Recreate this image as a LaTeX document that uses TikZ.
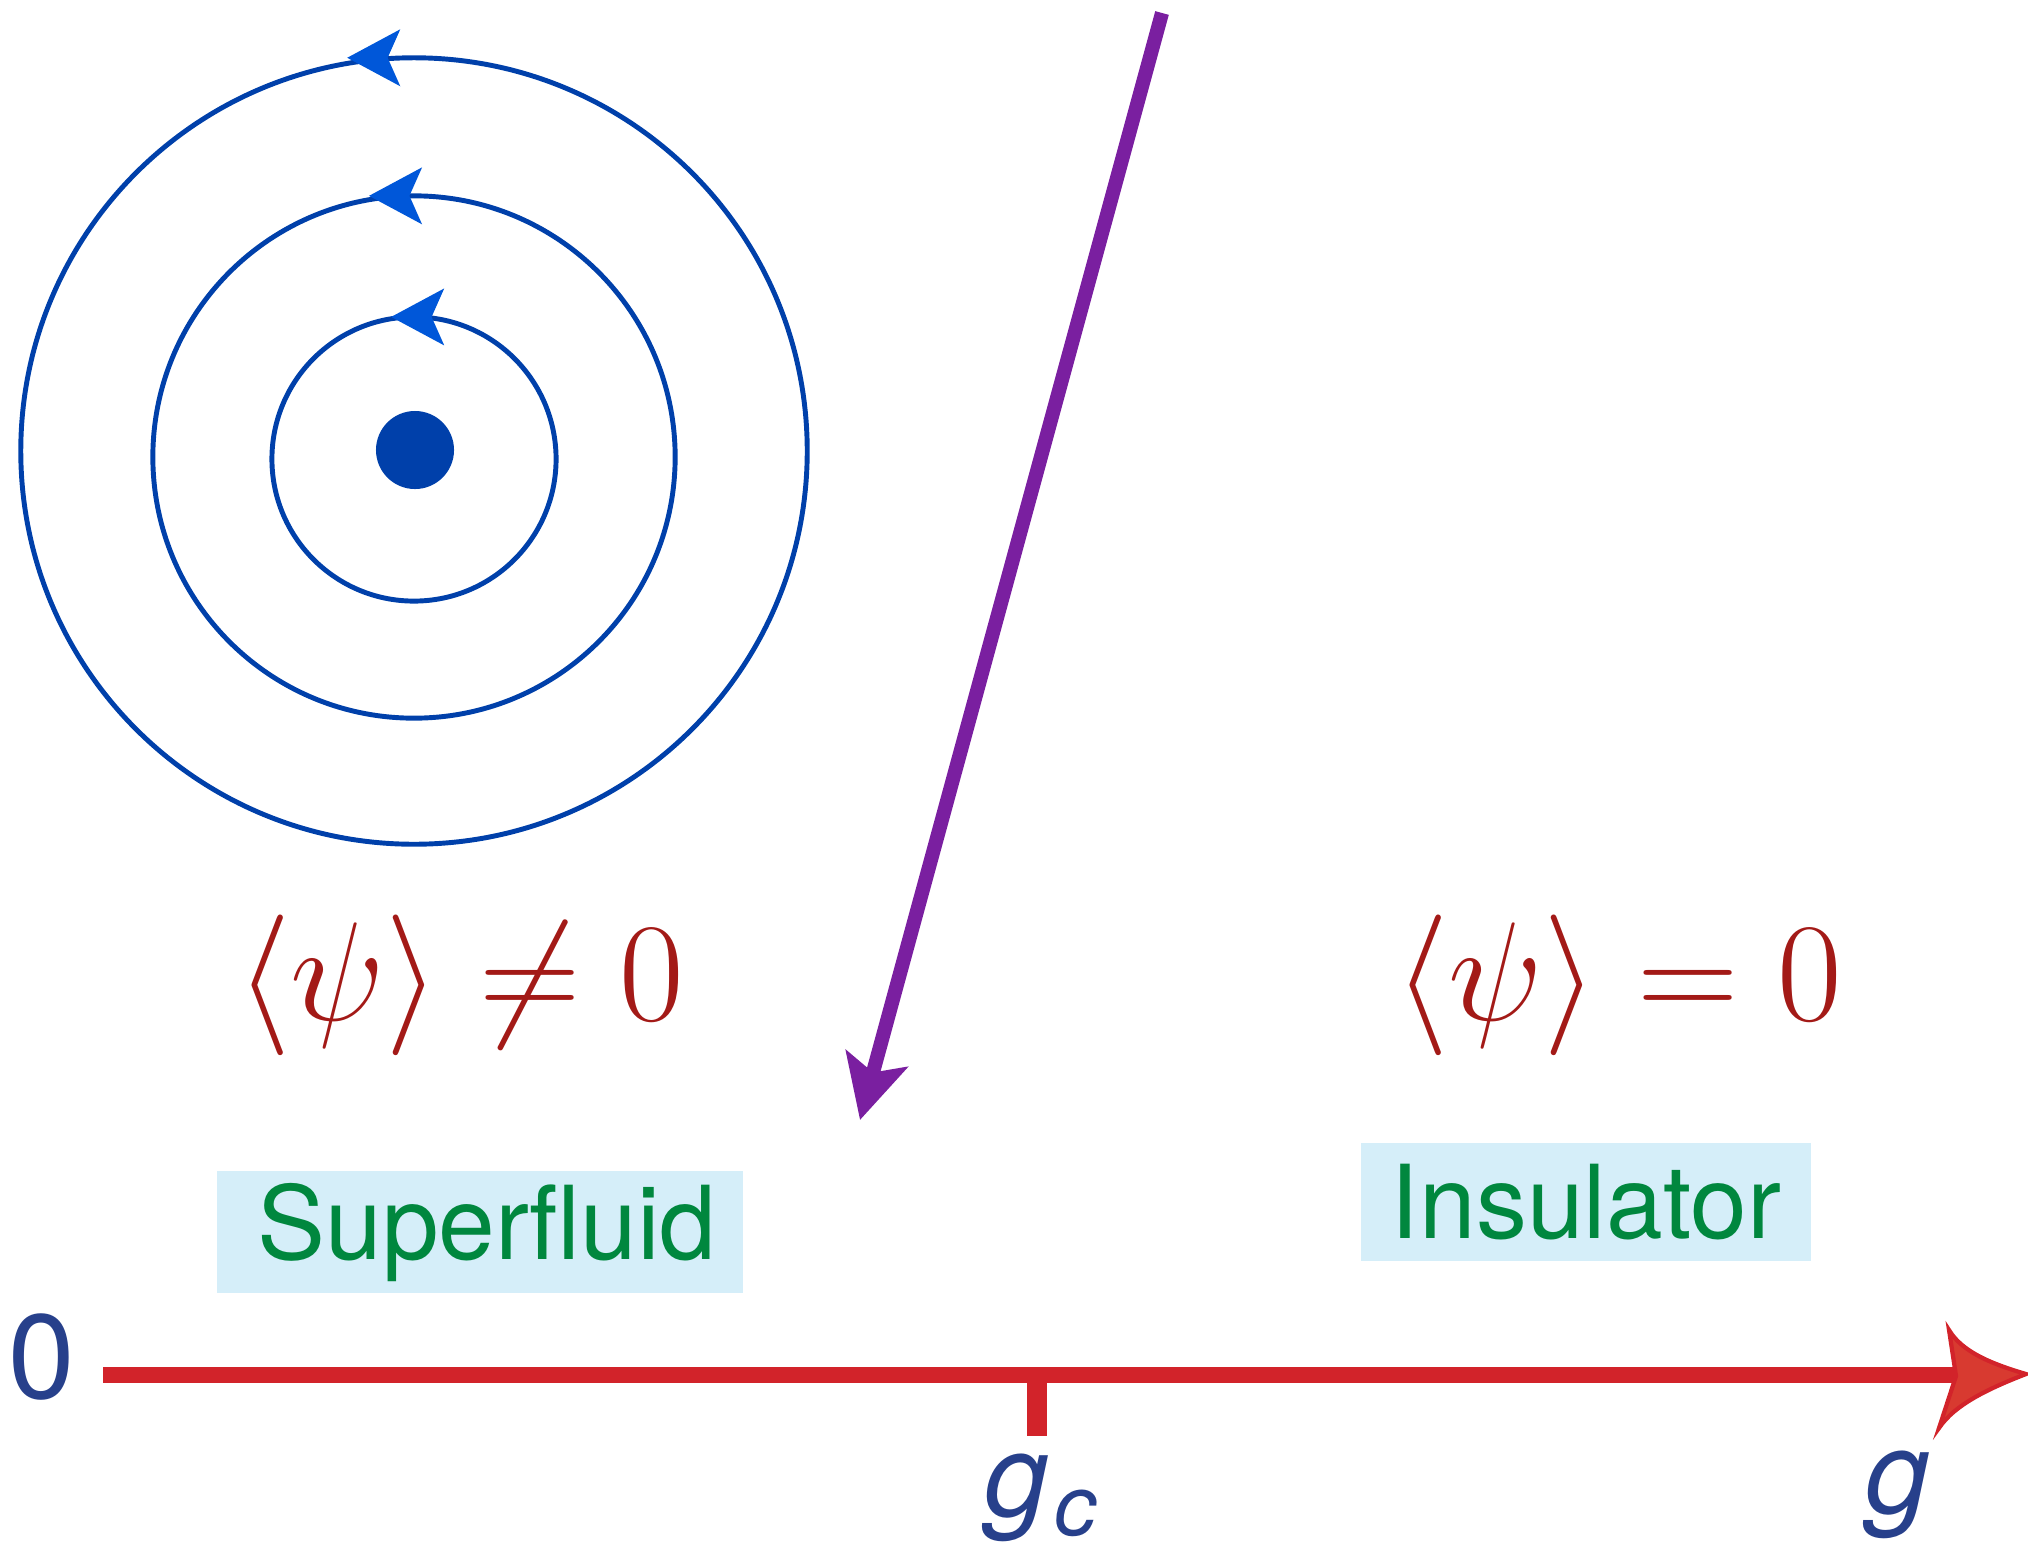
\documentclass[tikz,border=0pt]{standalone}
\usepackage{fix-cm}
\usepackage{fontspec}
\newfontfamily\heros{TeX Gyre Heros}
\usetikzlibrary{arrows.meta, decorations.markings}

\definecolor{orbitblue}{HTML}{0040AA}
\definecolor{tipblue}{HTML}{0057D9}
\definecolor{flowpurple}{HTML}{7A1FA0}
\definecolor{axisred}{HTML}{D2232A}
\definecolor{headred}{HTML}{D83A30}
\definecolor{labelblue}{HTML}{27408B}
\definecolor{phasegreen}{HTML}{00873E}
\definecolor{phasebox}{HTML}{D5EEF9}
\definecolor{orderred}{HTML}{A31A17}

\begin{document}
\begin{tikzpicture}[
        x=0.01cm, y=-0.01cm,
        >=Stealth,
        orbit/.style={orbitblue, line width=1.4pt, postaction={decorate},
            decoration={markings, mark=at position 0.25 with
                {\arrow[xshift=#1]{Stealth[length=15pt, width=16pt, inset=3.5pt, color=tipblue]}}}},
        flow/.style={->, flowpurple, line width=4pt,
            >={Stealth[length=18pt, width=18pt, inset=4pt]}},
        order/.style={text=orderred, inner sep=0pt, font=\fontsize{40}{40}\selectfont},
        phase/.style={fill=phasebox, text=phasegreen, inner sep=0pt,
            font=\heros\fontsize{29}{29}\selectfont},
        axislabel/.style={text=labelblue, inner sep=0pt}
    ]
        \useasboundingbox (0,0) rectangle (2028,1554);

% Вихрь: концентрические орбиты и ядро
        \coordinate (core) at (415,450);
        \draw[orbit=19pt] (414,451) circle (3.93cm);
        \draw[orbit=12.8pt] (414,457) circle (2.61cm);
        \draw[orbit=6.5pt] (414,459) circle (1.42cm);
        \fill[orbitblue] (core) circle (0.39cm);

% Стрелка перехода
        \coordinate (flowtop) at (1162,13);
        \coordinate (flowend) at (860,1120);
        \draw[flow] (flowtop) -- (flowend);

% Параметр порядка
        \node[order] (ordered) at (460,985) {$\langle\psi\rangle \neq 0$};
        \node[order] (disordered) at (1618,985) {$\langle\psi\rangle = 0$};

% Фазы
        \node[phase, minimum width=5.25cm, minimum height=1.21cm] (superfluid) at (480,1232) {\kern0.14cm Superfluid};
        \node[phase, minimum width=4.49cm, minimum height=1.18cm] (insulator) at (1586,1202) {Insulator};

% Ось g
        \coordinate (origin) at (103,1375);
        \coordinate (axisend) at (1958,1375);
        \coordinate (gc) at (1037,1375);
        \coordinate (gcfoot) at (1037,1436);
        \draw[axisred, line width=4.8pt] (origin) -- (axisend);
        \draw[axisred, line width=5.7pt] (gc) -- (gcfoot);
        \filldraw[fill=headred, draw=axisred, line width=1.2pt, line join=miter]
            (1949,1330) .. controls (1962,1352) and (1992,1364) .. (2026,1374)
            .. controls (1990,1388) and (1955,1404) .. (1939,1428)
            -- (1956,1376) -- cycle;

% Подписи оси
        \node[axislabel, font=\heros\fontsize{34}{34}\selectfont] (zero) at (42,1357) {0};
        \node[axislabel, anchor=base west, font=\heros\itshape\fontsize{33}{33}\selectfont] (gclabel) at (984,1516)
            {g\kern1.5pt\raisebox{-5.5pt}{\fontsize{24}{24}\selectfont c}};
        \node[axislabel, anchor=base, font=\heros\itshape\fontsize{33}{33}\selectfont] (glabel) at (1898,1513) {g};
    \end{tikzpicture}
\end{document}
